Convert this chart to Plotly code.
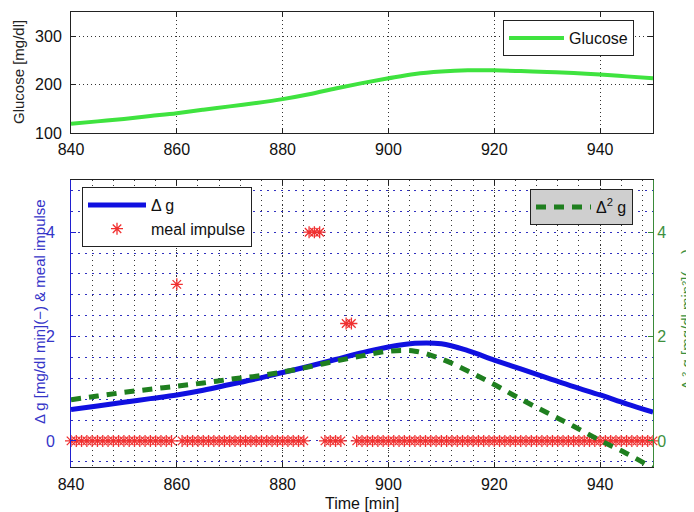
import plotly.graph_objects as go

# ---------------- data ----------------
t5 = [840, 845, 850, 855, 860, 865, 870, 875, 880, 885, 890, 895,
      900, 905, 910, 915, 920, 925, 930, 935, 940, 945, 950]

glucose = [119, 124, 129, 135, 141, 148, 155, 162, 170, 180, 192, 203,
           213, 222, 227, 229.5, 229.5, 228, 226, 224, 221, 217, 213]

delta_g = [0.60, 0.67, 0.74, 0.81, 0.88, 0.97, 1.08, 1.19, 1.31, 1.43, 1.56, 1.69,
           1.80, 1.87, 1.86, 1.73, 1.55, 1.38, 1.21, 1.04, 0.88, 0.71, 0.55]

delta2_g = [0.79, 0.86, 0.93, 0.99, 1.05, 1.11, 1.18, 1.24, 1.32, 1.42, 1.53, 1.63,
            1.72, 1.72, 1.57, 1.34, 1.08, 0.80, 0.54, 0.28, 0.01, -0.24, -0.52]

meal_t = list(range(840, 951))
meal_nonzero = {860: 3.0, 885: 4.0, 886: 4.0, 887: 4.0, 892: 2.25, 893: 2.25}
meal_val = [meal_nonzero.get(m, 0.0) for m in meal_t]

x_ticks = [840, 860, 880, 900, 920, 940]
glu_ticks = [100, 200, 300]
lr_ticks = [0, 2, 4]

# ---------------- geometry helpers ----------------
W, H = 694, 512
L, R, T, B = 63, 645, 4, 459
def px(x):
    return (x - L) / (R - L)
def py(y):
    return (B - y) / (B - T)

BLUE_TXT = "#3535c8"
GREEN_TXT = "#3d8f3d"
FONT = "Liberation Sans, Arial, sans-serif"

fig = go.Figure()

fig.add_trace(go.Scatter(x=t5, y=glucose, mode="lines", name="Glucose",
                         line=dict(color="#3fe33f", width=4, shape="spline"),
                         xaxis="x", yaxis="y", legend="legend"))

fig.add_trace(go.Scatter(x=t5, y=delta_g, mode="lines", name="\u0394 g",
                         line=dict(color="#1010e0", width=5, shape="spline"),
                         xaxis="x2", yaxis="y2", legend="legend2"))

fig.add_trace(go.Scatter(x=meal_t, y=meal_val, mode="markers", name="meal impulse",
                         marker=dict(symbol="asterisk-open", size=10, color="#f03030",
                                     line=dict(color="#f03030", width=1.3)),
                         cliponaxis=False,
                         xaxis="x2", yaxis="y2", legend="legend2"))

fig.add_trace(go.Scatter(x=t5, y=delta2_g, mode="lines", name="\u0394<sup>2</sup> g",
                         line=dict(color="#1f7f1f", width=5, dash="10px,8px", shape="spline"),
                         xaxis="x2", yaxis="y3", legend="legend3"))

tickfont = dict(family=FONT, size=16, color="#111111")

def xaxis_style(standoff):
    return dict(range=[840, 950], tickvals=x_ticks, ticks="inside", ticklen=5,
                showline=True, linecolor="#222222", linewidth=1, mirror="ticks",
                tickcolor="#222222", tickfont=tickfont, zeroline=False,
                ticklabelstandoff=standoff, automargin=False,
                showgrid=True, gridcolor="#333333", griddash="1px,3px", gridwidth=1)

fig.update_layout(
    width=W, height=H,
    margin=dict(l=L, r=W - R, t=T, b=H - B, autoexpand=False),
    paper_bgcolor="white", plot_bgcolor="white",
    font=dict(family=FONT, size=16, color="#111111"),
    xaxis=dict(domain=[0, 1], anchor="y", **xaxis_style(2)),
    yaxis=dict(domain=[py(125), 1], anchor="x", range=[100, 350], tickvals=glu_ticks,
               ticks="inside", ticklen=5, showline=True, linecolor="#222222",
               mirror="ticks", tickcolor="#222222", tickfont=tickfont, zeroline=False,
               ticklabelstandoff=5, automargin=False,
               showgrid=True, gridcolor="#333333", griddash="1px,3px", gridwidth=1),
    xaxis2=dict(domain=[0, 1], anchor="y2",
                minor=dict(dtick=4, showgrid=True, gridcolor="#333333",
                           griddash="1px,4px", gridwidth=1),
                **xaxis_style(3)),
    yaxis2=dict(domain=[0, py(172)], anchor="x2", range=[-0.5, 5], tickvals=lr_ticks,
                ticks="inside", ticklen=5, showline=True, linecolor="#2020d0",
                tickcolor="#2020d0", tickfont=dict(family=FONT, size=16, color=BLUE_TXT),
                ticklabelstandoff=12, automargin=False,
                zeroline=False, showgrid=True, gridcolor="#3030c0",
                griddash="2px,5px", gridwidth=1,
                minor=dict(dtick=0.4, tick0=0, showgrid=True, gridcolor="#3030c0",
                           griddash="2px,5px", gridwidth=1)),
    yaxis3=dict(overlaying="y2", anchor="x2", side="right", range=[-0.5, 5],
                tickvals=lr_ticks, ticks="inside", ticklen=5, showline=True,
                linecolor="#3a8a3a", tickcolor="#3a8a3a",
                tickfont=dict(family=FONT, size=16, color=GREEN_TXT),
                ticklabelstandoff=0, automargin=False,
                zeroline=False, showgrid=False),
    legend=dict(x=px(495), y=py(12), xanchor="left", yanchor="top",
                bgcolor="white", bordercolor="#222222", borderwidth=1, itemwidth=55,
                font=dict(family=FONT, size=16, color="#111111")),
    legend2=dict(x=px(74), y=py(179), xanchor="left", yanchor="top",
                 bgcolor="white", bordercolor="#222222", borderwidth=1, itemwidth=58,
                 font=dict(family=FONT, size=16, color="#111111"), tracegroupgap=0),
    legend3=dict(x=px(522), y=py(181), xanchor="left", yanchor="top",
                 bgcolor="#cfcfcf", bordercolor="#222222", borderwidth=1, itemwidth=55,
                 font=dict(family=FONT, size=16, color="#111111")),
    showlegend=True,
)

annots = [
    dict(text="Glucose [mg/dl]", x=px(11), y=py(64), textangle=-90,
         font=dict(family=FONT, size=15, color="#222222")),
    dict(text="\u0394 g [mg/dl min](\u2212) &amp; meal impulse", x=px(31), y=py(304),
         textangle=-90, font=dict(family=FONT, size=15, color=BLUE_TXT)),
    dict(text="\u0394 \u00b2 g [mg/dl min\u00b2](\u2212\u2212)", x=px(678), y=py(312),
         textangle=-90, font=dict(family=FONT, size=15, color=GREEN_TXT)),
    dict(text="Time [min]", x=px(354), y=py(496),
         font=dict(family=FONT, size=16, color="#111111")),
]
for a in annots:
    fig.add_annotation(xref="paper", yref="paper", showarrow=False,
                       xanchor="center", yanchor="middle", **a)

fig.write_html("out.html")
